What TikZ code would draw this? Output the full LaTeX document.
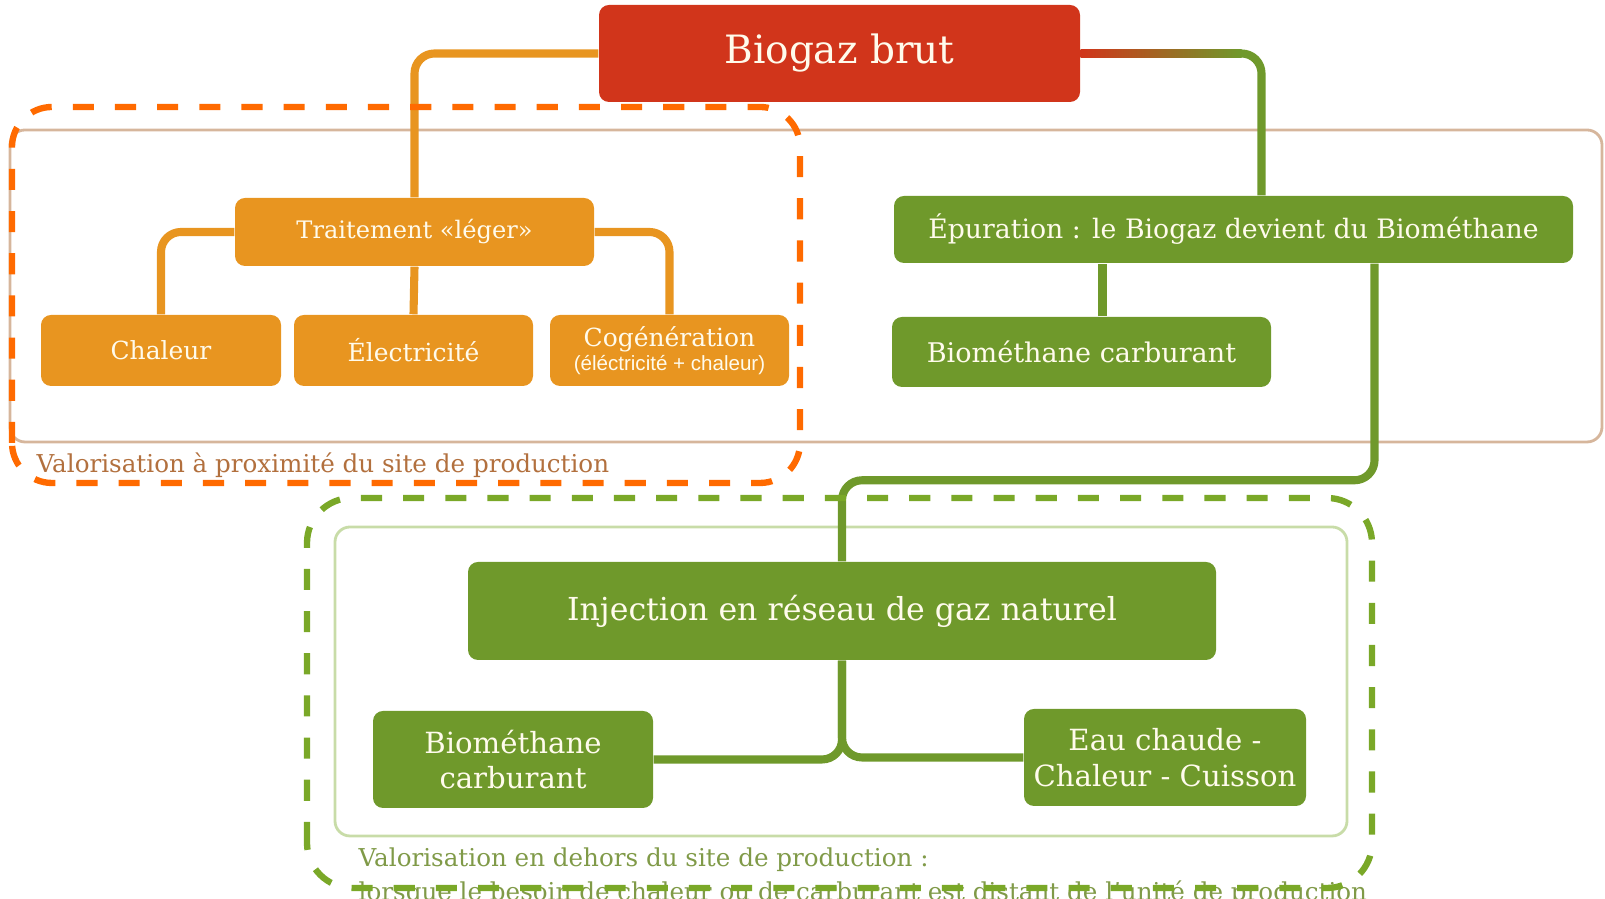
\documentclass[tikz,border=0pt]{standalone}
\usepackage{fontspec}
\setmainfont{DejaVu Serif}
\newfontfamily\smallsans{Liberation Sans}
\usetikzlibrary{calc}
\definecolor{biored}{RGB}{209,53,27}
\definecolor{boxorange}{RGB}{232,149,32}
\definecolor{boxgreen}{RGB}{111,153,43}
\definecolor{dashorange}{RGB}{255,106,0}
\definecolor{dashgreen}{RGB}{122,168,40}
\definecolor{framebeige}{RGB}{214,182,156}
\definecolor{framegreen}{RGB}{200,220,168}
\definecolor{labelbrown}{RGB}{178,112,62}
\definecolor{labelgreen}{RGB}{128,154,72}
\definecolor{boxtext}{RGB}{255,251,236}
\begin{document}
\begin{tikzpicture}[
  box/.style={rounded corners=1mm, text=boxtext, align=center, inner sep=0pt},
  obox/.style={box, fill=boxorange},
  gbox/.style={box, fill=boxgreen},
  oline/.style={draw=boxorange, line width=2.3pt, rounded corners=2mm},
  gline/.style={draw=boxgreen, line width=2.3pt, rounded corners=2mm},
  odash/.style={draw=dashorange, line width=1.8pt, dash pattern=on 6pt off 6pt, rounded corners=4mm},
  gdash/.style={draw=dashgreen, line width=1.8pt, dash pattern=on 6pt off 6pt, rounded corners=4.5mm},
  zone/.style={line width=0.8pt, rounded corners=1.5mm},
  zonelabel/.style={anchor=west, inner sep=0pt}
]
\useasboundingbox (0,0) rectangle (16.05,8.99);
%
\node [box, fill=biored, minimum width=4.81cm, minimum height=0.97cm,
  font=\fontsize{11.1}{13}\selectfont] (bio) at (8.395,8.455) {Biogaz brut};
%
\node [obox, minimum width=3.59cm, minimum height=0.68cm,
  font=\fontsize{6.85}{8}\selectfont] (trait) at (4.145,6.67) {Traitement «léger»};
\node [obox, minimum width=2.40cm, minimum height=0.71cm,
  font=\fontsize{7.1}{8}\selectfont] (chal) at (1.61,5.485) {Chaleur};
\node [obox, minimum width=2.39cm, minimum height=0.71cm,
  font=\fontsize{7.1}{8}\selectfont] (elec) at (4.135,5.485) {Électricité};
\node [obox, minimum width=2.39cm, minimum height=0.71cm,
  font=\fontsize{7.1}{8}\selectfont] (cog) at (6.695,5.485)
  {Cogénération\\[-1pt]{\smallsans\fontsize{5.85}{7}\selectfont (éléctricité + chaleur)}};
%
\node [gbox, minimum width=6.79cm, minimum height=0.67cm,
  font=\fontsize{7.6}{9}\selectfont] (epu) at (12.335,6.695)
  {Épuration : le Biogaz devient du Biométhane};
\node [gbox, minimum width=3.79cm, minimum height=0.70cm,
  font=\fontsize{7.7}{9}\selectfont] (bm1) at (10.815,5.47) {Biométhane carburant};
%
\node [gbox, minimum width=7.48cm, minimum height=0.98cm,
  font=\fontsize{9}{11}\selectfont] (inj) at (8.42,2.88) {Injection en réseau de gaz naturel};
\node [gbox, minimum width=2.80cm, minimum height=0.97cm,
  font=\fontsize{8.3}{10.2}\selectfont] (bm2) at (5.13,1.395) {Biométhane\\carburant};
\node [gbox, minimum width=2.82cm, minimum height=0.97cm,
  font=\fontsize{8.3}{10.2}\selectfont] (eau) at (11.65,1.415) {Eau chaude -\\Chaleur - Cuisson};
%
% zones
\draw [zone, draw=framebeige] (0.10,4.57) rectangle (16.02,7.69);
\draw [zone, draw=framegreen] (3.35,0.63) rectangle (13.47,3.72);
\node [zonelabel, text=labelbrown, font=\fontsize{7}{8}\selectfont] (lbl1) at (0.36,4.34)
  {Valorisation à proximité du site de production};
\node [zonelabel, text=labelgreen, font=\fontsize{7}{9.6}\selectfont, align=left] (lbl2) at (3.58,0.22)
  {Valorisation en dehors du site de production :\\
   lorsque le besoin de chaleur ou de carburant est distant de l'unité de production};
%
% liens
\coordinate (ec) at ([xshift=2.8mm]bio.east -| epu.north);
\draw [gline] (bio.east) -| ([xshift=2.8mm]epu.north);
\shade [left color=biored, right color=boxgreen]
  ([yshift=-1.15pt]bio.east) rectangle ([xshift=-2mm,yshift=1.15pt]ec);
\draw [oline] (bio.west) -| (trait.north);
%
\draw [oline] (trait.west) -| (chal.north);
\draw [oline] (trait.south) -- (elec.north);
\draw [oline] (trait.east) -| (cog.north);
%
\draw [gline] ([xshift=2.1mm]bm1.north) -- ([xshift=2.1mm]bm1.north |- epu.south);
\draw [gline] ([xshift=1.41cm]epu.south) |- ([yshift=8.1mm]inj.north) -- (inj.north);
%
\draw [gline] (inj.south) |- (bm2.east);
\draw [gline] (inj.south) |- (eau.west);
%
% cadres en tirets
\draw [odash] (0.12,4.16) rectangle (8.00,7.92);
\draw [gdash] (3.07,0.11) rectangle (13.72,4.01);
\end{tikzpicture}
\end{document}
